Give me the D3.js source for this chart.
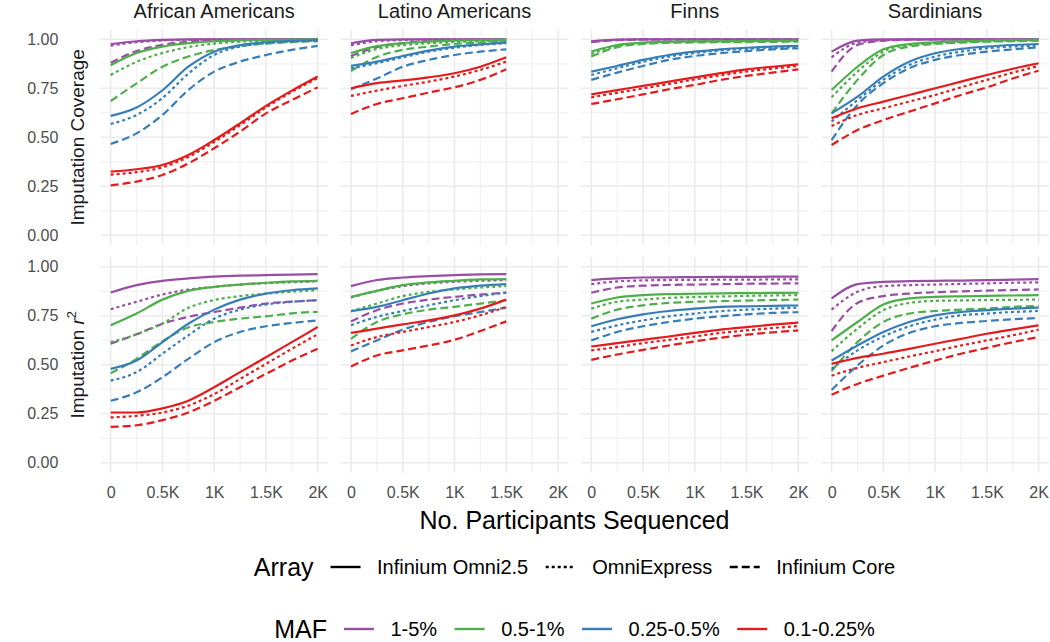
<!DOCTYPE html>
<html>
<head>
<meta charset="utf-8">
<script src="https://cdn.jsdelivr.net/npm/d3@7"></script>
<style>
  body { margin: 0; background: #fff; }
  text { font-family: "Liberation Sans", Arial, Helvetica, sans-serif; }
</style>
</head>
<body>
<svg id="chart" width="1050" height="642"></svg>
<script>
// ----- data -----
const xSteps = [0, 250, 500, 750, 1000, 1250, 1500, 1750, 2000];
const populations = ["African Americans", "Latino Americans", "Finns", "Sardinians"];
const arrayNames = ["Infinium Omni2.5", "OmniExpress", "Infinium Core"];
const mafLevels = ["1-5%", "0.5-1%", "0.25-0.5%", "0.1-0.25%"];
const yTicks = [0, 0.25, 0.5, 0.75, 1];
const xTicks = [0, 500, 1000, 1500, 2000];

// rows: MAF level x array (Omni2.5, OmniExpress, Core)
const afrCoverage = [
  [0.975, 0.99, 0.997, 1, 1, 1, 1, 1, 1],
  [0.968, 0.985, 0.994, 0.998, 1, 1, 1, 1, 1],
  [0.88, 0.94, 0.972, 0.988, 0.995, 0.998, 1, 1, 1],
  [0.868, 0.93, 0.963, 0.98, 0.99, 0.995, 0.997, 0.998, 0.999],
  [0.818, 0.885, 0.93, 0.96, 0.978, 0.988, 0.993, 0.996, 0.997],
  [0.685, 0.775, 0.86, 0.912, 0.945, 0.965, 0.978, 0.986, 0.99],
  [0.609, 0.652, 0.74, 0.86, 0.937, 0.97, 0.985, 0.992, 0.996],
  [0.568, 0.614, 0.7, 0.825, 0.92, 0.963, 0.98, 0.988, 0.993],
  [0.466, 0.52, 0.614, 0.741, 0.835, 0.886, 0.92, 0.946, 0.966],
  [0.325, 0.337, 0.359, 0.41, 0.486, 0.571, 0.66, 0.738, 0.81],
  [0.31, 0.322, 0.347, 0.4, 0.476, 0.562, 0.652, 0.732, 0.802],
  [0.255, 0.274, 0.308, 0.367, 0.444, 0.529, 0.622, 0.69, 0.755]
];
const latCoverage = [
  [0.98, 0.997, 1, 1, 1, 1, 1],
  [0.97, 0.99, 0.996, 0.999, 1, 1, 1],
  [0.915, 0.96, 0.98, 0.99, 0.995, 0.998, 1],
  [0.93, 0.965, 0.98, 0.988, 0.993, 0.996, 0.998],
  [0.905, 0.95, 0.97, 0.98, 0.986, 0.99, 0.993],
  [0.838, 0.91, 0.946, 0.963, 0.976, 0.983, 0.988],
  [0.864, 0.886, 0.915, 0.942, 0.963, 0.974, 0.983],
  [0.852, 0.878, 0.908, 0.937, 0.957, 0.971, 0.98],
  [0.745, 0.8, 0.86, 0.895, 0.92, 0.937, 0.949],
  [0.75, 0.776, 0.79, 0.806, 0.827, 0.86, 0.908],
  [0.711, 0.738, 0.762, 0.784, 0.81, 0.844, 0.886],
  [0.619, 0.67, 0.699, 0.728, 0.755, 0.793, 0.847]
];
const finCoverage = [
  [0.99, 0.998, 1, 1, 1, 1, 1, 1, 1],
  [0.988, 0.997, 1, 1, 1, 1, 1, 1, 1],
  [0.985, 0.996, 0.999, 1, 1, 1, 1, 1, 1],
  [0.937, 0.971, 0.983, 0.987, 0.989, 0.99, 0.991, 0.992, 0.993],
  [0.925, 0.966, 0.98, 0.985, 0.987, 0.988, 0.989, 0.99, 0.991],
  [0.912, 0.96, 0.976, 0.982, 0.984, 0.985, 0.986, 0.987, 0.988],
  [0.835, 0.864, 0.895, 0.92, 0.937, 0.949, 0.957, 0.963, 0.966],
  [0.818, 0.852, 0.885, 0.912, 0.93, 0.943, 0.951, 0.956, 0.959],
  [0.793, 0.83, 0.864, 0.895, 0.915, 0.929, 0.94, 0.949, 0.954],
  [0.719, 0.741, 0.762, 0.784, 0.806, 0.827, 0.847, 0.86, 0.872],
  [0.704, 0.727, 0.749, 0.772, 0.795, 0.816, 0.836, 0.85, 0.864],
  [0.67, 0.694, 0.719, 0.745, 0.767, 0.793, 0.813, 0.83, 0.847]
];
const sarCoverage = [
  [0.937, 0.993, 1, 1, 1, 1, 1, 1, 1],
  [0.908, 0.983, 0.995, 0.999, 1, 1, 1, 1, 1],
  [0.835, 0.971, 0.993, 0.998, 1, 1, 1, 1, 1],
  [0.741, 0.86, 0.949, 0.976, 0.985, 0.99, 0.993, 0.996, 0.998],
  [0.704, 0.835, 0.937, 0.971, 0.98, 0.986, 0.99, 0.993, 0.995],
  [0.622, 0.793, 0.92, 0.963, 0.976, 0.983, 0.988, 0.99, 0.993],
  [0.622, 0.707, 0.81, 0.886, 0.929, 0.951, 0.963, 0.971, 0.976],
  [0.58, 0.69, 0.793, 0.869, 0.912, 0.937, 0.954, 0.963, 0.968],
  [0.486, 0.665, 0.776, 0.852, 0.895, 0.92, 0.937, 0.949, 0.959],
  [0.597, 0.648, 0.682, 0.716, 0.75, 0.784, 0.818, 0.85, 0.878],
  [0.558, 0.614, 0.648, 0.682, 0.716, 0.755, 0.793, 0.83, 0.864],
  [0.461, 0.537, 0.588, 0.631, 0.673, 0.716, 0.755, 0.8, 0.84]
];

const afrR2 = [
  [0.868, 0.906, 0.928, 0.94, 0.949, 0.954, 0.957, 0.96, 0.962],
  [0.783, 0.821, 0.858, 0.883, 0.897, 0.909, 0.916, 0.921, 0.926],
  [0.607, 0.655, 0.709, 0.744, 0.769, 0.791, 0.812, 0.822, 0.829],
  [0.701, 0.761, 0.832, 0.877, 0.897, 0.909, 0.918, 0.925, 0.928],
  [0.615, 0.655, 0.71, 0.79, 0.83, 0.85, 0.863, 0.872, 0.88],
  [0.456, 0.53, 0.62, 0.69, 0.718, 0.735, 0.747, 0.762, 0.77],
  [0.479, 0.521, 0.615, 0.709, 0.781, 0.832, 0.863, 0.88, 0.889],
  [0.419, 0.462, 0.556, 0.65, 0.735, 0.781, 0.807, 0.821, 0.829],
  [0.316, 0.359, 0.436, 0.53, 0.615, 0.667, 0.696, 0.713, 0.726],
  [0.256, 0.256, 0.277, 0.316, 0.385, 0.462, 0.538, 0.615, 0.692],
  [0.231, 0.239, 0.256, 0.291, 0.35, 0.427, 0.504, 0.581, 0.655],
  [0.183, 0.191, 0.217, 0.256, 0.316, 0.385, 0.453, 0.521, 0.581]
];
const latR2 = [
  [0.901, 0.932, 0.945, 0.952, 0.957, 0.961, 0.962],
  [0.843, 0.877, 0.901, 0.915, 0.923, 0.928, 0.932],
  [0.721, 0.778, 0.812, 0.832, 0.846, 0.858, 0.867],
  [0.846, 0.877, 0.906, 0.92, 0.928, 0.935, 0.937],
  [0.773, 0.812, 0.85, 0.872, 0.884, 0.894, 0.901],
  [0.632, 0.718, 0.757, 0.781, 0.795, 0.812, 0.829],
  [0.773, 0.795, 0.829, 0.863, 0.889, 0.903, 0.911],
  [0.701, 0.744, 0.774, 0.803, 0.829, 0.85, 0.868],
  [0.568, 0.624, 0.679, 0.718, 0.747, 0.769, 0.791],
  [0.662, 0.684, 0.706, 0.726, 0.752, 0.786, 0.832],
  [0.598, 0.641, 0.667, 0.692, 0.718, 0.752, 0.795],
  [0.491, 0.547, 0.573, 0.598, 0.627, 0.672, 0.721]
];
const finR2 = [
  [0.932, 0.94, 0.945, 0.946, 0.947, 0.948, 0.948, 0.949, 0.949],
  [0.911, 0.925, 0.93, 0.932, 0.933, 0.934, 0.934, 0.935, 0.935],
  [0.867, 0.894, 0.903, 0.907, 0.909, 0.911, 0.913, 0.914, 0.915],
  [0.812, 0.843, 0.855, 0.86, 0.862, 0.864, 0.865, 0.866, 0.867],
  [0.786, 0.821, 0.832, 0.841, 0.845, 0.848, 0.851, 0.853, 0.855],
  [0.735, 0.781, 0.803, 0.815, 0.821, 0.824, 0.827, 0.83, 0.832],
  [0.696, 0.732, 0.757, 0.774, 0.786, 0.795, 0.798, 0.8, 0.802],
  [0.667, 0.701, 0.726, 0.747, 0.761, 0.773, 0.781, 0.786, 0.791],
  [0.624, 0.667, 0.696, 0.718, 0.735, 0.747, 0.757, 0.764, 0.768],
  [0.593, 0.61, 0.627, 0.644, 0.662, 0.679, 0.692, 0.704, 0.715],
  [0.573, 0.59, 0.61, 0.627, 0.644, 0.662, 0.675, 0.687, 0.697],
  [0.525, 0.552, 0.576, 0.598, 0.619, 0.638, 0.653, 0.665, 0.675]
];
const sarR2 = [
  [0.838, 0.911, 0.923, 0.926, 0.928, 0.929, 0.931, 0.934, 0.937],
  [0.781, 0.872, 0.901, 0.906, 0.909, 0.912, 0.915, 0.918, 0.92],
  [0.672, 0.815, 0.85, 0.863, 0.87, 0.874, 0.878, 0.881, 0.884],
  [0.624, 0.718, 0.807, 0.838, 0.846, 0.849, 0.851, 0.853, 0.855],
  [0.569, 0.684, 0.778, 0.815, 0.826, 0.828, 0.83, 0.831, 0.832],
  [0.467, 0.615, 0.718, 0.761, 0.774, 0.781, 0.786, 0.795, 0.8],
  [0.521, 0.598, 0.667, 0.718, 0.752, 0.769, 0.778, 0.786, 0.791],
  [0.479, 0.573, 0.644, 0.696, 0.73, 0.752, 0.761, 0.769, 0.774],
  [0.371, 0.496, 0.598, 0.662, 0.696, 0.713, 0.723, 0.732, 0.738],
  [0.504, 0.535, 0.556, 0.581, 0.607, 0.632, 0.658, 0.68, 0.701],
  [0.444, 0.484, 0.513, 0.542, 0.569, 0.598, 0.624, 0.65, 0.679],
  [0.347, 0.402, 0.444, 0.484, 0.521, 0.556, 0.586, 0.615, 0.641]
];

const panelData = [
  [afrCoverage, latCoverage, finCoverage, sarCoverage],
  [afrR2, latR2, finR2, sarR2]
];

// ----- drawing -----
const svg = d3.select("svg#chart");

const colorScale = d3.scaleOrdinal().domain(mafLevels)
  .range(["#984EA3", "#4DAF4A", "#377EB8", "#E41A1C"]);
const dashScale = d3.scaleOrdinal().domain(arrayNames)
  .range(["none", "3,3", "8,4"]);

const colLeft = 110.7, colStep = 240.3, dataWidth = 207;
const rowTop = [39.3, 266.7], dataHeight = 196;

const xScales = populations.map((p, i) =>
  d3.scaleLinear().domain([0, 2000]).range([colLeft + colStep * i, colLeft + colStep * i + dataWidth]));
const yScales = rowTop.map(t => d3.scaleLinear().domain([0, 1]).range([t + dataHeight, t]));

const gridMajor = "#ebebeb";

panelData.forEach((row, r) => {
  const y = yScales[r];
  row.forEach((series, c) => {
    const x = xScales[c];
    const g = svg.append("g");
    const [px0, px1] = [x(-100), x(2100)];
    const [py1, py0] = [y(-0.05), y(1.05)];

    // minor grid
    g.selectAll("line.vminor").data([250, 750, 1250, 1750]).join("line")
      .attr("x1", d => x(d)).attr("x2", d => x(d)).attr("y1", py0).attr("y2", py1)
      .attr("stroke", "#f2f2f2").attr("stroke-width", 1.2);
    g.selectAll("line.hminor").data([0.125, 0.375, 0.625, 0.875]).join("line")
      .attr("x1", px0).attr("x2", px1).attr("y1", d => y(d)).attr("y2", d => y(d))
      .attr("stroke", "#f2f2f2").attr("stroke-width", 1.2);
    // major grid
    g.selectAll("line.vmajor").data(xTicks).join("line")
      .attr("x1", d => x(d)).attr("x2", d => x(d)).attr("y1", py0).attr("y2", py1)
      .attr("stroke", gridMajor).attr("stroke-width", 1.6);
    g.selectAll("line.hmajor").data(yTicks).join("line")
      .attr("x1", px0).attr("x2", px1).attr("y1", d => y(d)).attr("y2", d => y(d))
      .attr("stroke", gridMajor).attr("stroke-width", 1.6);

    const line = d3.line()
      .x((d, i) => x(xSteps[i]))
      .y(d => y(d))
      .curve(d3.curveMonotoneX);

    const lines = series.map((vals, k) => ({
      maf: mafLevels[Math.floor(k / 3)],
      array: arrayNames[k % 3],
      vals: vals
    }));

    g.selectAll("path.curve").data(lines).join("path")
      .attr("class", "curve")
      .attr("d", d => line(d.vals))
      .attr("fill", "none")
      .attr("stroke", d => colorScale(d.maf))
      .attr("stroke-dasharray", d => dashScale(d.array))
      .attr("stroke-width", 2.2);

    if (r === 0) {
      svg.append("text")
        .attr("x", (px0 + px1) / 2).attr("y", 18)
        .attr("text-anchor", "middle")
        .attr("font-size", 20).attr("fill", "#1a1a1a")
        .text(populations[c]);
    }
    if (r === 1) {
      const xAxis = svg.append("g")
        .attr("transform", `translate(0,${py1})`)
        .call(d3.axisBottom(x).tickValues(xTicks)
          .tickFormat(d => d === 0 ? "0" : (d / 1000) + "K")
          .tickSize(0).tickPadding(14));
      xAxis.select(".domain").remove();
      xAxis.selectAll("text").attr("font-size", 16).attr("fill", "#4d4d4d");
    }
    if (c === 0) {
      // row strips sit between the tick labels and the panel
      const yAxis = svg.append("g")
        .attr("transform", `translate(${px0},0)`)
        .call(d3.axisLeft(y).tickValues(yTicks).tickFormat(d3.format(".2f"))
          .tickSize(0).tickPadding(42));
      yAxis.select(".domain").remove();
      yAxis.selectAll("text").attr("font-size", 16).attr("fill", "#4d4d4d");
    }
  });
});

// row strip labels
svg.append("text")
  .attr("transform", `translate(84,${rowTop[0] + dataHeight / 2}) rotate(-90)`)
  .attr("text-anchor", "middle").attr("font-size", 19).attr("fill", "#1a1a1a")
  .text("Imputation Coverage");

const r2Title = svg.append("text")
  .attr("transform", `translate(84,${rowTop[1] + dataHeight / 2}) rotate(-90)`)
  .attr("text-anchor", "middle").attr("font-size", 19).attr("fill", "#1a1a1a");
r2Title.append("tspan").text("Imputation ");
r2Title.append("tspan").attr("font-style", "italic").text("r");
r2Title.append("tspan").attr("font-size", 13).attr("dy", -8).text("2");

svg.append("text")
  .attr("x", 574.5).attr("y", 529)
  .attr("text-anchor", "middle").attr("font-size", 25).attr("fill", "#000")
  .text("No. Participants Sequenced");

// legends
function drawLegend(title, labels, cy, styleKey) {
  const g = svg.append("g");
  const t = g.append("text").attr("x", 0).attr("y", cy).attr("dy", "0.35em")
    .attr("font-size", 25).attr("fill", "#000").text(title);
  let pos = t.node().getComputedTextLength() + 17;
  labels.forEach(lab => {
    const key = g.append("line")
      .attr("x1", pos).attr("x2", pos + 30).attr("y1", cy).attr("y2", cy)
      .attr("stroke-width", 2.4);
    styleKey(key, lab);
    pos += 30 + 16.5;
    const lt = g.append("text").attr("x", pos).attr("y", cy).attr("dy", "0.35em")
      .attr("font-size", 20).attr("fill", "#000").text(lab);
    pos += lt.node().getComputedTextLength() + 17.5;
  });
  const total = pos - 17.5;
  g.attr("transform", `translate(${574.5 - total / 2},0)`);
}

drawLegend("Array", arrayNames, 567, (key, lab) =>
  key.attr("stroke", "#000").attr("stroke-dasharray", dashScale(lab)));
drawLegend("MAF", mafLevels, 629, (key, lab) =>
  key.attr("stroke", colorScale(lab)));
</script>
</body>
</html>
